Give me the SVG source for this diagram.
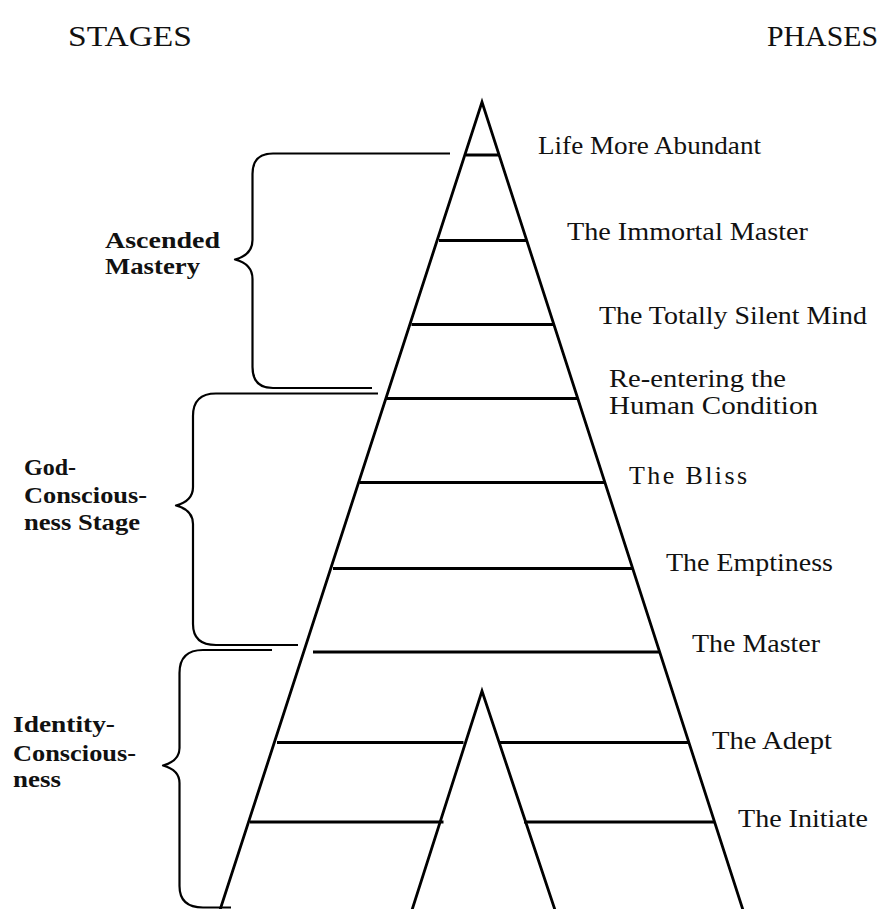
<svg xmlns="http://www.w3.org/2000/svg" width="890" height="909" viewBox="0 0 890 909">
<style>
.ln{stroke:#000;stroke-width:2.8;fill:none;stroke-linecap:butt}
.br{stroke:#000;stroke-width:2.2;fill:none;stroke-linejoin:round}
.ph{font-family:"Liberation Serif","Times New Roman",serif;font-size:26px;fill:#111}
.st{font-family:"Liberation Serif","Times New Roman",serif;font-size:24px;font-weight:bold;fill:#111}
.hd{font-family:"Liberation Serif","Times New Roman",serif;font-size:29px;fill:#111}
</style>
<rect width="890" height="909" fill="#fff"/>
<g id="headers">
<text class="hd" x="68" y="46" textLength="124" lengthAdjust="spacingAndGlyphs">STAGES</text>
<text class="hd" x="767" y="46" textLength="111" lengthAdjust="spacingAndGlyphs">PHASES</text>
</g>
<g id="pyramid">
<polyline class="ln" points="220,910 482,102 743,910"/>
<polyline class="ln" points="412,910 482,691 555,910"/>
<line class="ln" x1="466" y1="155" x2="499" y2="155"/>
<line class="ln" x1="439" y1="240.5" x2="526" y2="240.5"/>
<line class="ln" x1="411.5" y1="324.5" x2="553" y2="324.5"/>
<line class="ln" x1="386" y1="398.5" x2="578" y2="398.5"/>
<line class="ln" x1="359.5" y1="482.5" x2="605" y2="482.5"/>
<line class="ln" x1="333" y1="568.5" x2="633" y2="568.5"/>
<line class="ln" x1="313" y1="652" x2="660" y2="652"/>
<line class="ln" x1="277" y1="742.5" x2="463.5" y2="742.5"/>
<line class="ln" x1="500" y1="742.5" x2="688" y2="742.5"/>
<line class="ln" x1="250" y1="822" x2="443.5" y2="822"/>
<line class="ln" x1="524" y1="822" x2="715" y2="822"/>
</g>
<g id="connectors">
<path id="brace-ascended" class="br" d="M 450,153.5 H 273 Q 252.5,153.5 252.5,174 V 240 Q 252.5,255 235,259.5 Q 252.5,264 252.5,279 V 367 Q 252.5,388 273,388 H 372"/>
<path id="brace-god" class="br" d="M 378,393.5 H 216 Q 193,393.5 193,416 V 487 Q 193,501 176,505.5 Q 193,510 193,524 V 624 Q 193,645 216,645 H 298"/>
<path id="brace-identity" class="br" d="M 272,650 H 203 Q 179.5,650 179.5,673 V 748 Q 179.5,761 163,765.5 Q 179.5,770 179.5,783 V 886 Q 179.5,907.5 203,907.5 H 231"/>
</g>
<g id="stage-ascended">
<text class="st" x="105" y="248" textLength="115" lengthAdjust="spacingAndGlyphs">Ascended</text>
<text class="st" x="105" y="274" textLength="95" lengthAdjust="spacingAndGlyphs">Mastery</text>
</g>
<g id="stage-god">
<text class="st" x="24" y="475" textLength="52" lengthAdjust="spacingAndGlyphs">God-</text>
<text class="st" x="24" y="503" textLength="123" lengthAdjust="spacingAndGlyphs">Conscious-</text>
<text class="st" x="24" y="530" textLength="116" lengthAdjust="spacingAndGlyphs">ness Stage</text>
</g>
<g id="stage-identity">
<text class="st" x="13" y="732" textLength="102" lengthAdjust="spacingAndGlyphs">Identity-</text>
<text class="st" x="13" y="761" textLength="123" lengthAdjust="spacingAndGlyphs">Conscious-</text>
<text class="st" x="13" y="787" textLength="48" lengthAdjust="spacingAndGlyphs">ness</text>
</g>
<g id="phases">
<text id="ph-life" class="ph" x="538" y="154" textLength="223" lengthAdjust="spacingAndGlyphs">Life More Abundant</text>
<text id="ph-immortal" class="ph" x="567" y="240" textLength="241" lengthAdjust="spacingAndGlyphs">The Immortal Master</text>
<text id="ph-silent" class="ph" x="599" y="324" textLength="268" lengthAdjust="spacingAndGlyphs">The Totally Silent Mind</text>
<text id="ph-reenter1" class="ph" x="609" y="387" textLength="177" lengthAdjust="spacingAndGlyphs">Re-entering the</text>
<text id="ph-reenter2" class="ph" x="609" y="414" textLength="209" lengthAdjust="spacingAndGlyphs">Human Condition</text>
<text id="ph-bliss" class="ph" x="629" y="484" textLength="118" lengthAdjust="spacing">The Bliss</text>
<text id="ph-empty" class="ph" x="666" y="571" textLength="167" lengthAdjust="spacingAndGlyphs">The Emptiness</text>
<text id="ph-master" class="ph" x="692" y="652" textLength="128" lengthAdjust="spacingAndGlyphs">The Master</text>
<text id="ph-adept" class="ph" x="712" y="749" textLength="120" lengthAdjust="spacingAndGlyphs">The Adept</text>
<text id="ph-initiate" class="ph" x="738" y="827" textLength="130" lengthAdjust="spacingAndGlyphs">The Initiate</text>
</g>
</svg>
